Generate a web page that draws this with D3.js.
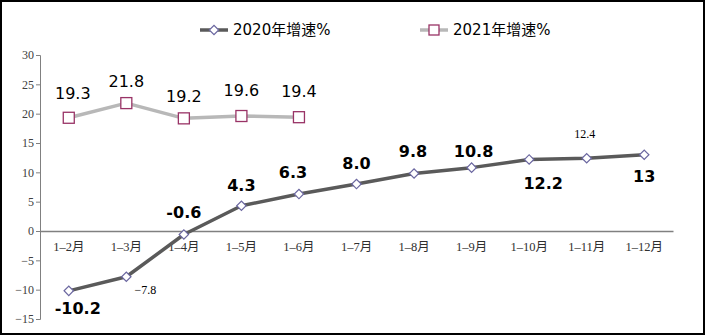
<!DOCTYPE html>
<html><head><meta charset="utf-8">
<script src="https://cdn.jsdelivr.net/npm/d3@7"></script>
<style>
html,body{margin:0;padding:0;background:#fff;}
svg{display:block;}
</style></head>
<body>
<svg id="chart" width="707" height="336"></svg>
<script>
const categories = ["1–2月","1–3月","1–4月","1–5月","1–6月","1–7月","1–8月","1–9月","1–10月","1–11月","1–12月"];
const series2020 = [-10.2,-7.8,-0.6,4.3,6.3,8.0,9.8,10.8,12.2,12.4,13];
const labels2020 = ["-10.2","−7.8","-0.6","4.3","6.3","8.0","9.8","10.8","12.2","12.4","13"];
const series2021 = [19.3,21.8,19.2,19.6,19.4];
const labels2021 = ["19.3","21.8","19.2","19.6","19.4"];
const yTicks = [30,25,20,15,10,5,0,-5,-10,-15];
const seriesNames = ["2020年增速%","2021年增速%"];

// label styling (placement offsets, fonts) kept separate from data
const place2020 = [
  {dx:9,dy:18,big:true},{dx:19,dy:13,big:false},{dx:0,dy:-22,big:true},{dx:0,dy:-20,big:true},
  {dx:-6,dy:-22,big:true},{dx:0,dy:-21,big:true},{dx:-1,dy:-22,big:true},{dx:2,dy:-16,big:true},
  {dx:14,dy:24,big:true},{dx:-2,dy:-24,big:false},{dx:0,dy:22,big:true}];
const place2021 = [{dx:4,dy:-24},{dx:0,dy:-22},{dx:0,dy:-22},{dx:0,dy:-26},{dx:0,dy:-26}];

const svg = d3.select("#chart");
svg.append("rect").attr("x",1).attr("y",1).attr("width",703).attr("height",333)
  .attr("fill","#fff").attr("stroke","#000").attr("stroke-width",2);

const mLeft=40, mRight=673, mTop=55, mBottom=319;
const x = d3.scaleBand().domain(categories).range([mLeft,mRight]);
const y = d3.scaleLinear().domain([-15,30]).range([mBottom,mTop]);
const cx = c => x(c)+x.bandwidth()/2;

const serif = "'Liberation Serif','DejaVu Serif','Noto Sans CJK SC',serif";
const sans = "'DejaVu Sans','Noto Sans CJK SC',sans-serif";

// y axis
const yAxis = d3.axisLeft(y).tickValues(yTicks).tickSize(4).tickFormat(d=>d<0?"−"+Math.abs(d):String(d));
const gy = svg.append("g").attr("transform",`translate(${mLeft},0)`).call(yAxis);
gy.select(".domain").attr("stroke","#808080").attr("stroke-width",1);
gy.selectAll(".tick line").attr("stroke","#808080");
gy.selectAll(".tick text").attr("font-family",serif).attr("font-size",12).attr("fill","#404040").attr("x",-6);

// x axis at zero
const xAxis = d3.axisBottom(x).tickSize(0).tickPadding(11);
const gx = svg.append("g").attr("transform",`translate(0,${y(0)})`).call(xAxis);
gx.select(".domain").attr("stroke","#808080").attr("stroke-width",1.3);
gx.selectAll(".tick text").attr("font-family",serif).attr("font-size",12.5).attr("fill","#303030");

// lines
const line = d3.line().x((d,i)=>cx(categories[i])).y(d=>y(d));
svg.append("path").datum(series2021).attr("d",line).attr("fill","none")
  .attr("stroke","#b8b8b8").attr("stroke-width",3.5).attr("stroke-linejoin","round");
svg.append("path").datum(series2020).attr("d",line).attr("fill","none")
  .attr("stroke","#5a5a5a").attr("stroke-width",3.5).attr("stroke-linejoin","round");

// markers
const diamond = d3.symbol().type(d3.symbolSquare).size(44);
svg.selectAll(".m20").data(series2020).join("path")
  .attr("d",diamond())
  .attr("transform",(d,i)=>`translate(${cx(categories[i])},${y(d)}) rotate(45)`)
  .attr("fill","#fff").attr("stroke","#6b67a0").attr("stroke-width",1.2);
svg.selectAll(".m21").data(series2021).join("rect")
  .attr("x",(d,i)=>cx(categories[i])-5.5).attr("y",d=>y(d)-5.5)
  .attr("width",11).attr("height",11)
  .attr("fill","#fff").attr("stroke","#993366").attr("stroke-width",1.3);

// data labels
svg.selectAll(".l20").data(series2020).join("text")
  .attr("x",(d,i)=>cx(categories[i])+place2020[i].dx)
  .attr("y",(d,i)=>y(d)+place2020[i].dy)
  .attr("text-anchor","middle").attr("dominant-baseline","central")
  .attr("font-family",(d,i)=>place2020[i].big?sans:serif)
  .attr("font-weight",(d,i)=>place2020[i].big?"bold":"normal")
  .attr("font-size",(d,i)=>place2020[i].big?16:12)
  .attr("fill","#000")
  .text((d,i)=>labels2020[i]);
svg.selectAll(".l21").data(series2021).join("text")
  .attr("x",(d,i)=>cx(categories[i])+place2021[i].dx)
  .attr("y",(d,i)=>y(d)+place2021[i].dy)
  .attr("text-anchor","middle").attr("dominant-baseline","central")
  .attr("font-family",sans).attr("font-size",16).attr("fill","#000")
  .text((d,i)=>labels2021[i]);

// legend
const leg = [{x:200,name:seriesNames[0],color:"#5a5a5a",marker:"diamond"},
             {x:420,name:seriesNames[1],color:"#b8b8b8",marker:"square"}];
leg.forEach(l=>{
  const g = svg.append("g").attr("transform",`translate(${l.x},30)`);
  g.append("line").attr("x1",0).attr("x2",28).attr("y1",0).attr("y2",0)
    .attr("stroke",l.color).attr("stroke-width",3.5);
  if(l.marker==="diamond"){
    g.append("path").attr("d",diamond()).attr("transform","translate(14,0) rotate(45)")
      .attr("fill","#fff").attr("stroke","#6b67a0").attr("stroke-width",1.2);
  } else {
    g.append("rect").attr("x",9).attr("y",-5).attr("width",10).attr("height",10)
      .attr("fill","#fff").attr("stroke","#993366").attr("stroke-width",1.3);
  }
  g.append("text").attr("x",33).attr("y",0).attr("dominant-baseline","central")
    .attr("font-family",sans).attr("font-size",15).attr("fill","#000").text(l.name);
});
</script>
</body></html>
